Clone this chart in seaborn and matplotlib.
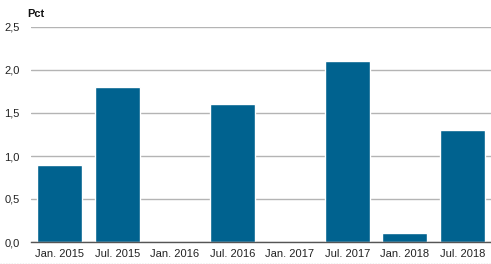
import matplotlib
matplotlib.use("Agg")
import matplotlib.pyplot as plt
import seaborn as sns
import pandas as pd
from matplotlib.lines import Line2D

categories = ["Jan. 2015", "Jul. 2015", "Jan. 2016", "Jul. 2016",
              "Jan. 2017", "Jul. 2017", "Jan. 2018", "Jul. 2018"]
values = [0.9, 1.8, 0.0, 1.6, 0.0, 2.1, 0.1, 1.3]
yticks = [0.0, 0.5, 1.0, 1.5, 2.0, 2.5]
ytick_labels = ["0,0", "0,5", "1,0", "1,5", "2,0", "2,5"]

sns.set_theme(style="white")
plt.rcParams["font.family"] = ["Liberation Sans", "DejaVu Sans"]

df = pd.DataFrame({"cat": categories, "val": values})

fig = plt.figure(figsize=(4.91, 2.64), dpi=100)
ax = fig.add_axes([31/491, 22/264, 460/491, 215/264])
sns.barplot(data=df, x="cat", y="val", color="#00628F", width=0.78,
            saturation=1, ax=ax, zorder=3)
ax.set_ylim(0, 2.5)
ax.set_xlim(-0.5, 7.5)
ax.set_yticks(yticks)
ax.set_yticklabels(ytick_labels, fontsize=8, color="#222222")
ax.tick_params(axis="x", labelsize=8, colors="#222222", length=0, pad=5)
ax.tick_params(axis="y", length=0, pad=8)
ax.set_xlabel("")
ax.set_ylabel("")
ax.grid(axis="y", color="#b4b4b4", linewidth=1, zorder=0)
for s in ["top", "right", "left"]:
    ax.spines[s].set_visible(False)
ax.spines["bottom"].set_color("#555555")
ax.spines["bottom"].set_linewidth(1)
ax.spines["bottom"].set_zorder(4)
fig.text(27/491, 1 - 14/264, "Pct", fontsize=8, fontweight="bold",
         va="center", ha="left", color="#111111")
fig.add_artist(Line2D([0, 1], [0.5/264, 0.5/264], transform=fig.transFigure,
                      color="#bbbbbb", linewidth=1, linestyle=(0, (1, 1))))
fig.savefig("out.png", dpi=100)
